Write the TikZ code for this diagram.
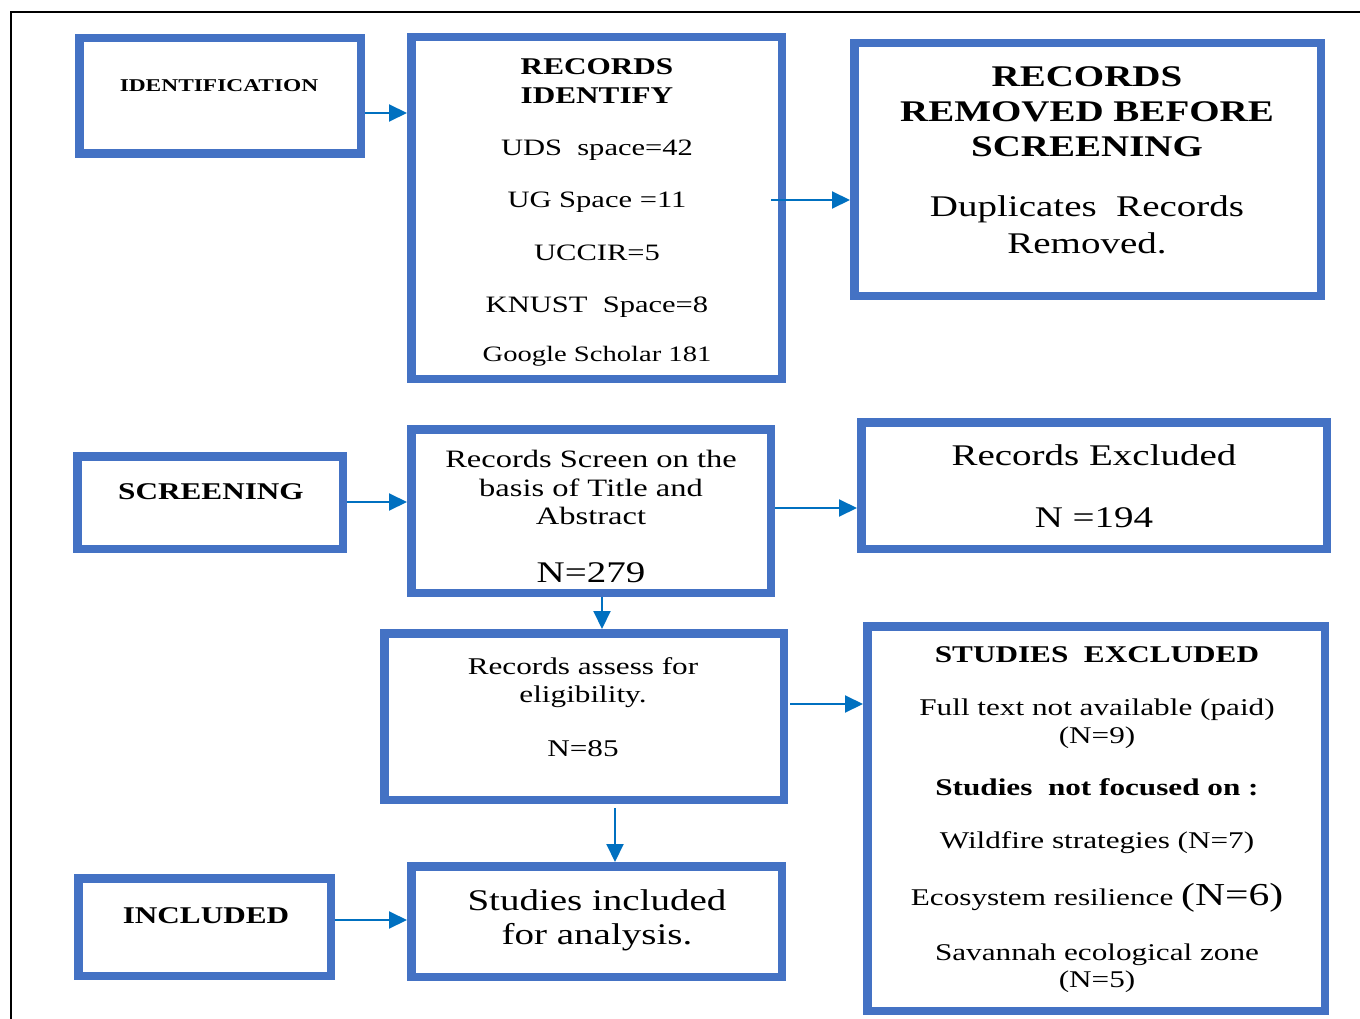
\documentclass[tikz,border=0pt]{standalone}
\usepackage{fontspec}
\setmainfont{Liberation Serif}[FakeStretch=1.3]
\usetikzlibrary{arrows.meta,calc}
\definecolor{boxblue}{HTML}{4472C4}
\definecolor{arrblue}{HTML}{0070C0}
\tikzset{
  box/.style={draw=boxblue, line width=8.5pt, inner sep=0pt, fill=white},
  arr/.style={draw=arrblue, line width=2pt, -{Triangle[length=18pt,width=17pt]}},
  txt/.style={anchor=base, inner sep=0pt, align=center},
}
\newcommand{\fsz}[1]{\fontsize{#1}{#1}\selectfont}
\newcommand{\mybox}[5]{\node[box, minimum width={#4-#2-8.5}, minimum height={#5-#3-8.5}] (#1) at ({(#2+#4)/2},{(#3+#5)/2}) {};}
\newcommand{\tline}[5]{\node[txt, font=\fsz{#4}] (#1) at (#2,#3) {#5};}
\begin{document}
\begin{tikzpicture}[x=1pt,y=-1pt]
\useasboundingbox (0,0) rectangle (1360,1019);
\draw[line width=1.8pt] (11,1019) -- (11,12) -- (1360,12);

% boxes
\mybox{ident}{75}{34}{365}{158}
\mybox{recid}{407}{33}{786}{383}
\mybox{removed}{850}{39}{1325}{300}
\mybox{screening}{73}{452}{347}{553}
\mybox{screen}{407}{425}{775}{597}
\mybox{excluded}{857}{418}{1331}{553}
\mybox{assess}{380}{629}{788}{804}
\mybox{studexcl}{863}{622}{1329}{1015}
\mybox{included}{74}{874}{335}{980}
\mybox{studincl}{407}{862}{786}{981}

% texts
\tline{tident}{219}{92}{18}{\bfseries IDENTIFICATION}

\tline{trecid1}{597}{75}{24}{\bfseries RECORDS}
\tline{trecid2}{597}{104}{24}{\bfseries IDENTIFY}
\tline{trecid3}{597}{156}{23.5}{UDS\ \ space=42}
\tline{trecid4}{597}{208}{23.5}{UG Space =11}
\tline{trecid5}{597}{260}{23.5}{UCCIR=5}
\tline{trecid6}{597}{312}{23.5}{KNUST\ \ Space=8}
\tline{trecid7}{597}{361}{22}{Google Scholar 181}

\tline{trem1}{1087}{87}{30}{\bfseries RECORDS}
\tline{trem2}{1087}{122}{30}{\bfseries REMOVED BEFORE}
\tline{trem3}{1087}{157}{30}{\bfseries SCREENING}
\tline{trem4}{1087}{217}{30}{Duplicates\ \ Records}
\tline{trem5}{1087}{253}{30}{Removed.}

\tline{tscreening}{211}{499}{24}{\bfseries SCREENING}

\tline{tscr1}{591}{467}{25}{Records Screen on the}
\tline{tscr2}{591}{496}{25}{basis of Title and}
\tline{tscr3}{591}{524}{25}{Abstract}
\tline{tscr4}{591}{582}{30}{N=279}

\tline{texc1}{1094}{465}{30}{Records Excluded}
\tline{texc2}{1094}{527}{30}{N =194}

\tline{tass1}{583}{674}{24}{Records assess for}
\tline{tass2}{583}{702}{24}{eligibility.}
\tline{tass3}{583}{756}{24}{N=85}

\tline{tse1}{1097}{662}{24}{\bfseries STUDIES\ \ EXCLUDED}
\tline{tse2}{1097}{715}{24}{Full text not available (paid)}
\tline{tse3}{1097}{743}{24}{(N=9)}
\tline{tse4}{1097}{795}{24}{\bfseries Studies\ \ not focused on :}
\tline{tse5}{1097}{848}{24}{Wildfire strategies (N=7)}
\tline{tse6}{1097}{905}{24}{Ecosystem resilience {\fsz{32}(N=6)}}
\tline{tse7}{1097}{960}{24}{Savannah ecological zone}
\tline{tse8}{1097}{987}{24}{(N=5)}

\tline{tincluded}{206}{923}{24}{\bfseries INCLUDED}

\tline{tsi1}{597}{910}{30}{Studies included}
\tline{tsi2}{597}{944}{30}{for analysis.}

% connectors
\draw[arr] (ident.east |- 0,113) -- (recid.west |- 0,113);
\draw[arr] ($(recid.east |- 0,200)+(-15,0)$) -- (removed.west |- 0,200);
\draw[arr] (screening.east |- 0,502) -- (screen.west |- 0,502);
\draw[arr] (screen.east |- 0,508) -- (excluded.west |- 0,508);
\draw[arr] (screen.south -| 602,0) -- (assess.north -| 602,0);
\draw[arr] ($(assess.east |- 0,704)+(2,0)$) -- (studexcl.west |- 0,704);
\draw[arr] ($(assess.south -| 615,0)+(0,4)$) -- (studincl.north -| 615,0);
\draw[arr] (included.east |- 0,920) -- (studincl.west |- 0,920);
\end{tikzpicture}
\end{document}
